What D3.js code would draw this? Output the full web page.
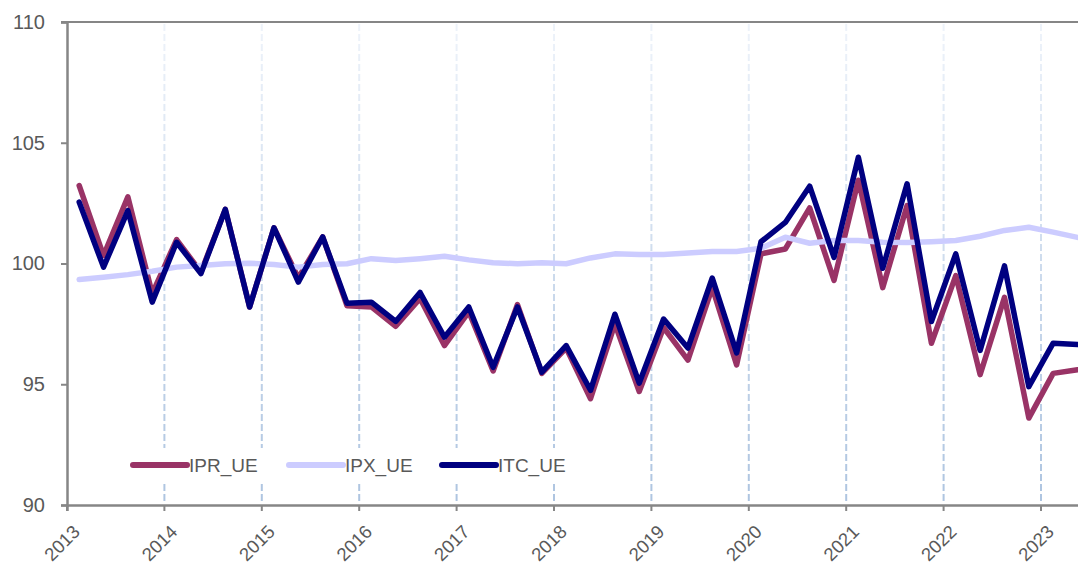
<!DOCTYPE html>
<html>
<head>
<meta charset="utf-8">
<script src="https://cdn.jsdelivr.net/npm/d3@7"></script>
<style>
  html, body { margin: 0; padding: 0; background: #fff; overflow: hidden; }
  svg { display: block; }
  text { font-family: "Liberation Sans", Arial, sans-serif; fill: #595959; }
</style>
</head>
<body>
<svg id="chart" width="1078" height="565"></svg>
<script>
// ---- data ----
const years = [2013, 2014, 2015, 2016, 2017, 2018, 2019, 2020, 2021, 2022, 2023];
const quarterNames = ["Q1", "Q2", "Q3", "Q4"];
const yTicks = [90, 95, 100, 105, 110];
const seriesNames = ["IPR_UE", "IPX_UE", "ITC_UE"];

const IPR_UE = [
  103.23, 100.33, 102.76, 98.75,
  100.99, 99.64, 102.24, 98.2,
  101.48, 99.4, 101.1, 98.25,
  98.2, 97.4, 98.55, 96.6,
  98.0, 95.55, 98.3, 95.45,
  96.5, 94.4, 97.5, 94.7,
  97.35, 96.0, 99.0, 95.8,
  100.4, 100.6, 102.3, 99.3,
  103.45, 99.0, 102.4, 96.7,
  99.5, 95.4, 98.6, 93.6,
  95.45, 95.6
];
const IPX_UE = [
  99.34, 99.43, 99.54, 99.68,
  99.85, 99.92, 99.99, 100.01,
  99.96, 99.85, 99.96, 99.99,
  100.2, 100.12, 100.2, 100.3,
  100.15, 100.03, 99.99, 100.03,
  99.99, 100.23, 100.4, 100.37,
  100.37, 100.43, 100.5, 100.5,
  100.63, 101.09, 100.84, 100.95,
  100.95, 100.88, 100.87, 100.9,
  100.95, 101.13, 101.37, 101.5,
  101.3, 101.08
];
const ITC_UE = [
  102.54, 99.85, 102.19, 98.4,
  100.88, 99.58, 102.24, 98.2,
  101.48, 99.23, 101.1, 98.35,
  98.4, 97.6, 98.8, 96.95,
  98.2, 95.7, 98.2, 95.5,
  96.6, 94.75, 97.9, 95.05,
  97.7, 96.5, 99.4, 96.3,
  100.9, 101.7, 103.2, 100.25,
  104.4, 99.8, 103.3, 97.6,
  100.4, 96.4, 99.9, 94.9,
  96.7, 96.65
];

const colors = { IPR_UE: "#993366", IPX_UE: "#CCCCFF", ITC_UE: "#000080" };
const seriesData = { IPR_UE, IPX_UE, ITC_UE };

// categories: quarters
const categories = [];
years.forEach(yr => quarterNames.forEach(q => categories.push(yr + "-" + q)));

// ---- layout ----
const mLeft = 67, mTop = 22, mBottom = 505;
const quarterW = 24.35;

const svg = d3.select("#chart");

const x = d3.scaleBand()
  .domain(categories)
  .range([mLeft, mLeft + categories.length * quarterW])
  .paddingInner(0).paddingOuter(0);
const y = d3.scaleLinear().domain([90, 110]).range([mBottom, mTop]);

// gradient for dashed gridlines
const defs = svg.append("defs");
const grad = defs.append("linearGradient")
  .attr("id", "gridGrad")
  .attr("gradientUnits", "userSpaceOnUse")
  .attr("x1", 0).attr("y1", mTop).attr("x2", 0).attr("y2", mBottom);
grad.append("stop").attr("offset", "0%").attr("stop-color", "#eef3fa");
grad.append("stop").attr("offset", "100%").attr("stop-color", "#adc4e0");

// vertical dashed gridlines at year boundaries (except first)
const yearStarts = years.map(yr => yr + "-Q1");
svg.append("g").selectAll("line")
  .data(yearStarts.slice(1))
  .join("line")
  .attr("x1", d => x(d)).attr("x2", d => x(d))
  .attr("y1", mTop + 2).attr("y2", mBottom - 2)
  .attr("stroke", "url(#gridGrad)")
  .attr("stroke-width", 2)
  .attr("stroke-dasharray", "7,3");

// top line at 110
svg.append("line")
  .attr("x1", mLeft - 6).attr("x2", 1078)
  .attr("y1", y(110)).attr("y2", y(110))
  .attr("stroke", "#868686").attr("stroke-width", 2);

// y axis
const yAxis = d3.axisLeft(y).tickValues(yTicks).tickSize(6).tickPadding(16).tickFormat(d3.format("d"));
const gy = svg.append("g").attr("transform", `translate(${mLeft},0)`).call(yAxis);
gy.select(".domain").attr("stroke", "#868686").attr("stroke-width", 2.5);
gy.selectAll(".tick line").attr("stroke", "#868686").attr("stroke-width", 2);
gy.selectAll(".tick text").style("font-size", "20px").attr("fill", "#595959")
  .style("font-family", "'Liberation Sans', Arial, sans-serif");

// x axis
const xAxis = d3.axisBottom(x).tickValues(yearStarts).tickSize(6).tickFormat(d => d.slice(0, 4));
const gx = svg.append("g").attr("transform", `translate(0,${mBottom})`).call(xAxis);
gx.select(".domain").attr("stroke", "#868686").attr("stroke-width", 2.5);
gx.selectAll(".tick").attr("transform", d => `translate(${x(d)},0)`);
gx.selectAll(".tick line").attr("stroke", "#868686").attr("stroke-width", 2);
gx.selectAll(".tick text")
  .attr("y", 0).attr("dy", null)
  .attr("text-anchor", "middle")
  .attr("dominant-baseline", "central")
  .attr("transform", "translate(-5,38) rotate(-45)")
  .style("font-size", "18.5px").attr("fill", "#595959")
  .style("font-family", "'Liberation Sans', Arial, sans-serif");

// lines
const line = d3.line()
  .x((d, i) => x(categories[i]) + x.bandwidth() / 2)
  .y(d => y(d));

const gLines = svg.append("g");
seriesNames.forEach(name => {
  gLines.append("path")
    .datum(seriesData[name])
    .attr("d", line)
    .attr("fill", "none")
    .attr("stroke", colors[name])
    .attr("stroke-width", 5.5)
    .attr("stroke-linejoin", "round")
    .attr("stroke-linecap", "round");
});

// legend
const legend = svg.append("g");
legend.append("rect")
  .attr("x", 122).attr("y", 448).attr("width", 450).attr("height", 34)
  .attr("fill", "#fff");
const legendX = [133, 289, 442];
seriesNames.forEach((name, i) => {
  const g = legend.append("g").attr("transform", `translate(${legendX[i]},465)`);
  g.append("line")
    .attr("x1", 0).attr("x2", 54).attr("y1", 0).attr("y2", 0)
    .attr("stroke", colors[name]).attr("stroke-width", 6).attr("stroke-linecap", "round");
  g.append("text")
    .attr("x", 56).attr("y", 0).attr("dominant-baseline", "central")
    .style("font-size", "19px").attr("fill", "#595959")
    .text(name);
});
</script>
</body>
</html>
